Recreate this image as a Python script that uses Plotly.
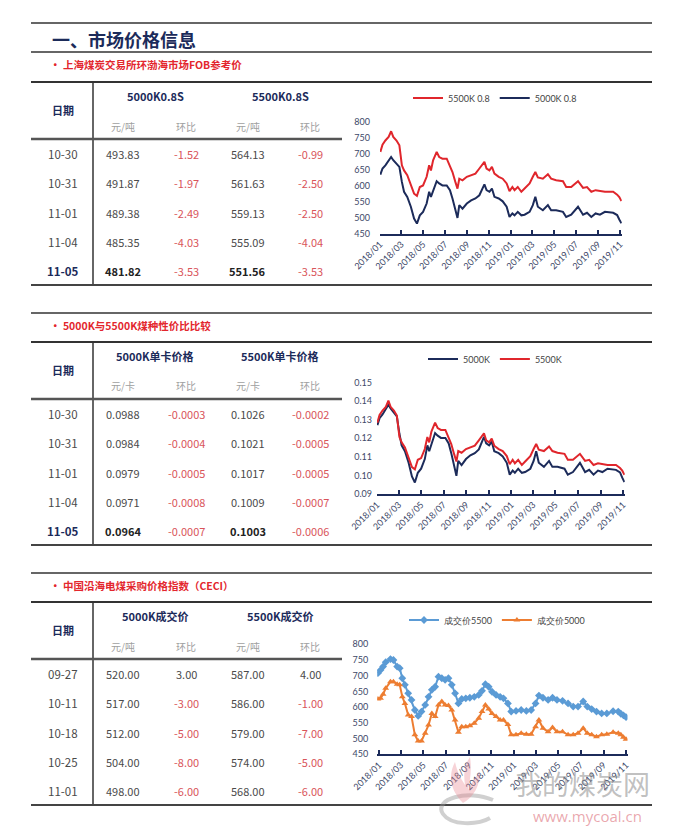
import plotly.graph_objects as go

W, H = 677, 830


def px(x):
    return x / W


def py(y):
    return 1 - y / H


# ---------------- data ----------------
fob_dates = [
    "2018-01-02", "2018-01-08", "2018-01-16", "2018-01-25", "2018-02-01", "2018-02-07",
    "2018-02-16", "2018-02-24", "2018-03-03", "2018-03-09", "2018-03-18", "2018-03-28",
    "2018-04-06", "2018-04-14", "2018-04-22", "2018-05-01", "2018-05-11", "2018-05-18",
    "2018-05-23", "2018-05-29", "2018-06-08", "2018-06-15", "2018-06-24", "2018-07-06",
    "2018-07-15", "2018-07-22", "2018-07-30", "2018-08-05", "2018-08-10", "2018-08-19",
    "2018-08-31", "2018-09-12", "2018-09-24", "2018-10-05", "2018-10-19", "2018-10-25",
    "2018-11-02", "2018-11-09", "2018-11-16", "2018-11-28", "2018-12-09", "2018-12-20",
    "2018-12-28", "2019-01-05", "2019-01-11", "2019-01-20", "2019-01-30", "2019-02-08",
    "2019-02-22", "2019-03-03", "2019-03-10", "2019-03-17", "2019-03-31", "2019-04-14",
    "2019-04-23", "2019-05-07", "2019-05-26", "2019-06-04", "2019-06-18", "2019-07-07",
    "2019-07-21", "2019-08-01", "2019-08-13", "2019-08-25", "2019-09-06", "2019-09-20",
    "2019-10-13", "2019-10-24", "2019-10-30", "2019-10-31", "2019-11-01", "2019-11-04",
    "2019-11-05",
]
fob_5500 = [
    706, 729, 742, 753, 771, 753, 742, 727, 664, 648, 633, 601,
    575, 568, 596, 601, 628, 664, 648, 680, 706, 690, 685, 685,
    664, 643, 612, 591, 622, 617, 628, 633, 638, 654, 675, 654,
    648, 659, 638, 628, 622, 607, 583, 596, 586, 596, 581, 591,
    607, 628, 643, 626, 622, 636, 622, 617, 614, 596, 596, 614,
    593, 596, 581, 586, 583, 581, 581, 572, 564.13, 561.63, 559.13, 555.09,
    551.56,
]
fob_5000 = [
    635, 654, 664, 680, 690, 680, 669, 659, 612, 581, 565, 534,
    497, 481, 507, 518, 544, 581, 565, 586, 614, 607, 601, 601,
    586, 560, 523, 499, 539, 528, 544, 554, 560, 570, 604, 586,
    581, 591, 565, 560, 551, 534, 502, 513, 507, 518, 507, 509,
    518, 539, 565, 534, 523, 539, 523, 523, 518, 502, 509, 534,
    509, 515, 502, 513, 509, 518, 515, 508, 493.83, 491.87, 489.38, 485.35,
    481.82,
]
kcal_5500 = [
    0.1284, 0.1325, 0.1349, 0.1369, 0.1402, 0.1369, 0.1349, 0.1322, 0.1207, 0.1178, 0.1151, 0.1093,
    0.1045, 0.1033, 0.1084, 0.1093, 0.1142, 0.1207, 0.1178, 0.1236, 0.1284, 0.1255, 0.1245, 0.1245,
    0.1207, 0.1169, 0.1113, 0.1075, 0.1131, 0.1122, 0.1142, 0.1151, 0.1160, 0.1189, 0.1227, 0.1189,
    0.1178, 0.1198, 0.1160, 0.1142, 0.1131, 0.1104, 0.1060, 0.1084, 0.1065, 0.1084, 0.1056, 0.1075,
    0.1104, 0.1142, 0.1169, 0.1138, 0.1131, 0.1156, 0.1131, 0.1122, 0.1116, 0.1084, 0.1084, 0.1116,
    0.1078, 0.1084, 0.1056, 0.1065, 0.1060, 0.1056, 0.1056, 0.1040, 0.1026, 0.1021, 0.1017, 0.1009,
    0.1003,
]
kcal_5000 = [
    0.1270, 0.1308, 0.1328, 0.1360, 0.1380, 0.1360, 0.1338, 0.1318, 0.1224, 0.1162, 0.1130, 0.1068,
    0.0994, 0.0962, 0.1014, 0.1036, 0.1088, 0.1162, 0.1130, 0.1172, 0.1228, 0.1214, 0.1202, 0.1202,
    0.1172, 0.1120, 0.1046, 0.0998, 0.1078, 0.1056, 0.1088, 0.1108, 0.1120, 0.1140, 0.1208, 0.1172,
    0.1162, 0.1182, 0.1130, 0.1120, 0.1102, 0.1068, 0.1004, 0.1026, 0.1014, 0.1036, 0.1014, 0.1018,
    0.1036, 0.1078, 0.1130, 0.1068, 0.1046, 0.1078, 0.1046, 0.1046, 0.1036, 0.1004, 0.1018, 0.1068,
    0.1018, 0.1030, 0.1004, 0.1026, 0.1018, 0.1036, 0.1030, 0.1016, 0.0988, 0.0984, 0.0979, 0.0971,
    0.0964,
]

ceci_dates = [
    "2017-12-29", "2018-01-05", "2018-01-12", "2018-01-19", "2018-02-01", "2018-02-09",
    "2018-02-19", "2018-02-26", "2018-03-05", "2018-03-12", "2018-03-21", "2018-03-30",
    "2018-04-08", "2018-04-17", "2018-04-26", "2018-05-06", "2018-05-15", "2018-05-24",
    "2018-06-02", "2018-06-11", "2018-06-20", "2018-06-29", "2018-07-08", "2018-07-17",
    "2018-07-26", "2018-08-04", "2018-08-13", "2018-08-24", "2018-09-04", "2018-09-16",
    "2018-09-28", "2018-10-07", "2018-10-16", "2018-10-25", "2018-11-03", "2018-11-14",
    "2018-11-25", "2018-12-04", "2018-12-16", "2018-12-25", "2019-01-07", "2019-01-21",
    "2019-02-04", "2019-02-17", "2019-03-01", "2019-03-10", "2019-03-21", "2019-04-04",
    "2019-04-16", "2019-04-28", "2019-05-13", "2019-05-28", "2019-06-11", "2019-06-24",
    "2019-07-08", "2019-07-19", "2019-07-31", "2019-08-13", "2019-08-27", "2019-09-10",
    "2019-09-27", "2019-10-11", "2019-10-18", "2019-10-25", "2019-11-01",
]
ceci_5500 = [
    708, 718, 729, 743, 753, 750, 729, 724, 692, 671, 644, 623,
    591, 572, 586, 607, 633, 655, 665, 697, 692, 687, 692, 671,
    644, 612, 626, 628, 630, 633, 639, 652, 673, 665, 649, 639,
    633, 628, 612, 586, 588, 591, 588, 591, 612, 637, 630, 623,
    630, 623, 620, 612, 602, 602, 618, 602, 594, 586, 580, 580,
    587, 586, 579, 574, 568,
]
ceci_5000 = [
    626, 628, 641, 660, 681, 681, 673, 671, 633, 612, 575, 570,
    512, 492, 492, 517, 543, 580, 570, 607, 618, 607, 605, 591,
    559, 520, 538, 538, 541, 549, 565, 586, 607, 594, 580, 570,
    559, 559, 545, 512, 512, 517, 514, 514, 538, 559, 533, 522,
    535, 522, 522, 512, 512, 517, 533, 517, 512, 506, 512, 514,
    520, 517, 512, 504, 498,
]

tick_dates = ["2018-01-01", "2018-03-01", "2018-05-01", "2018-07-01", "2018-09-01", "2018-11-01",
              "2019-01-01", "2019-03-01", "2019-05-01", "2019-07-01", "2019-09-01", "2019-11-01"]
tick_labels = ["2018/01", "2018/03", "2018/05", "2018/07", "2018/09", "2018/11",
               "2019/01", "2019/03", "2019/05", "2019/07", "2019/09", "2019/11"]

fob_rows = ["10-30", "10-31", "11-01", "11-04", "11-05"]
fob_5000_val = [493.83, 491.87, 489.38, 485.35, 481.82]
fob_5000_chg = [-1.52, -1.97, -2.49, -4.03, -3.53]
fob_5500_val = [564.13, 561.63, 559.13, 555.09, 551.56]
fob_5500_chg = [-0.99, -2.50, -2.50, -4.04, -3.53]

kcal_rows = ["10-30", "10-31", "11-01", "11-04", "11-05"]
kcal_5000_val = [0.0988, 0.0984, 0.0979, 0.0971, 0.0964]
kcal_5000_chg = [-0.0003, -0.0004, -0.0005, -0.0008, -0.0007]
kcal_5500_val = [0.1026, 0.1021, 0.1017, 0.1009, 0.1003]
kcal_5500_chg = [-0.0002, -0.0005, -0.0005, -0.0007, -0.0006]

ceci_rows = ["09-27", "10-11", "10-18", "10-25", "11-01"]
ceci_5000_val = [520.00, 517.00, 512.00, 504.00, 498.00]
ceci_5000_chg = [3.00, -3.00, -5.00, -8.00, -6.00]
ceci_5500_val = [587.00, 586.00, 579.00, 574.00, 568.00]
ceci_5500_chg = [4.00, -1.00, -7.00, -5.00, -6.00]

# ---------------- style ----------------
NAVY = "#1c2b5a"
RED = "#e0262c"
SUBRED = "#e3262d"
CHGRED = "#d9545a"
TXT = "#4a4a4a"
GRAY = "#a0a0a0"
AXTXT = "#3d4868"
BLUE3 = "#5b9bd5"
ORANGE3 = "#ed7d31"
CJK = "Noto Sans CJK SC"
TICKF = "Lato"

fig = go.Figure()

fig.add_trace(go.Scatter(x=fob_dates, y=fob_5500, name="5500K 0.8", mode="lines",
                         line=dict(color=RED, width=2), xaxis="x", yaxis="y", legend="legend"))
fig.add_trace(go.Scatter(x=fob_dates, y=fob_5000, name="5000K 0.8", mode="lines",
                         line=dict(color=NAVY, width=2), xaxis="x", yaxis="y", legend="legend"))
fig.add_trace(go.Scatter(x=fob_dates, y=kcal_5000, name="5000K", mode="lines",
                         line=dict(color=NAVY, width=2), xaxis="x2", yaxis="y2", legend="legend2"))
fig.add_trace(go.Scatter(x=fob_dates, y=kcal_5500, name="5500K", mode="lines",
                         line=dict(color=RED, width=2), xaxis="x2", yaxis="y2", legend="legend2"))
fig.add_trace(go.Scatter(x=ceci_dates, y=ceci_5500, name="成交价5500", mode="lines+markers",
                         line=dict(color=BLUE3, width=2),
                         marker=dict(symbol="diamond", size=6, color=BLUE3),
                         xaxis="x3", yaxis="y3", legend="legend3"))
fig.add_trace(go.Scatter(x=ceci_dates, y=ceci_5000, name="成交价5000", mode="lines+markers",
                         line=dict(color=ORANGE3, width=2),
                         marker=dict(symbol="triangle-up", size=6, color=ORANGE3),
                         xaxis="x3", yaxis="y3", legend="legend3"))


def xaxis(x0, x1, rng, anchor):
    return dict(domain=[px(x0), px(x1)], range=rng, type="date", anchor=anchor,
                tickmode="array", tickvals=tick_dates, ticktext=tick_labels, tickangle=-45,
                tickfont=dict(size=9, color=AXTXT, family=TICKF),
                showline=True, linecolor=NAVY, linewidth=2,
                ticks="inside", ticklen=4, tickwidth=1.5, tickcolor=NAVY,
                showgrid=False, zeroline=False, fixedrange=True, automargin=False)


def yaxis(ytop, ybot, rng, dtick, fmt, standoff, anchor):
    return dict(domain=[py(ybot), py(ytop)], range=rng, dtick=dtick, tickformat=fmt,
                anchor=anchor, tickfont=dict(size=9, color=AXTXT, family=TICKF),
                showgrid=False, zeroline=False, showline=False, ticks="",
                ticklabelstandoff=standoff, fixedrange=True, automargin=False)


def legend(xc, yc):
    return dict(orientation="h", x=px(xc), y=py(yc), xanchor="center", yanchor="middle",
                font=dict(size=9, color="#444", family=TICKF), bgcolor="rgba(0,0,0,0)",
                itemwidth=30, tracegroupgap=0)


shapes = []
ann = []


def hline(y, x0, x1, w=1.5, c="#333"):
    shapes.append(dict(type="line", xref="paper", yref="paper", x0=px(x0), x1=px(x1),
                       y0=py(y), y1=py(y), line=dict(color=c, width=w)))


def vline(x, y0, y1, w=1.5, c="#333"):
    shapes.append(dict(type="line", xref="paper", yref="paper", x0=px(x), x1=px(x),
                       y0=py(y0), y1=py(y1), line=dict(color=c, width=w)))


def text(x, y, t, size=11, color=TXT, anchor="center", family=CJK):
    ann.append(dict(x=px(x), y=py(y), xref="paper", yref="paper", text=t, showarrow=False,
                    xanchor=anchor, yanchor="middle", font=dict(size=size, color=color, family=family)))


def P(x, y):
    return "%.5f,%.5f" % (px(x), py(y))


hline(23, 31, 652, 1.5, "#333")
text(50, 39, "<b>一、市场价格信息</b>", size=18, color=NAVY, anchor="left")
hline(52, 31, 652, 1.5, "#333")

COLS = [123, 186, 248, 310]


def section(sec_line, subtitle, ttop, head1, head2, unit, rows, v1, c1, v2, c2, fmt, bold_last):
    if sec_line is not None:
        hline(sec_line, 31, 652, 1.5, "#333")
    text(48, ttop - 17, "<b>• " + subtitle + "</b>", size=10.5, color=SUBRED, anchor="left")
    hline(ttop, 31, 652, 2, "#333")
    vline(93, ttop, ttop + 203, 1.5, "#333")
    text(63, ttop + 28, "<b>日期</b>", size=11, color=NAVY)
    text(155, ttop + 14, "<b>" + head1 + "</b>", size=11, color=NAVY)
    text(280, ttop + 14, "<b>" + head2 + "</b>", size=11, color=NAVY)
    for cx, t in zip(COLS, [unit, "环比", unit, "环比"]):
        text(cx, ttop + 44, t, size=10, color=GRAY)
    hline(ttop + 57, 31, 342, 2.5, "#555")
    for i, d in enumerate(rows):
        y = ttop + 72 + i * 29.3
        b = bold_last and i == len(rows) - 1
        vals = [v1[i], c1[i], v2[i], c2[i]]
        dc = NAVY if b else TXT
        text(63, y, ("<b>%s</b>" % d) if b else d, size=11.5, color=dc)
        for j, (cx, v) in enumerate(zip(COLS, vals)):
            s = fmt % v
            if j in (1, 3):
                col = CHGRED if v < 0 else TXT
                text(cx, y, s, size=11, color=col)
            else:
                col = "#222" if b else TXT
                text(cx, y, ("<b>%s</b>" % s) if b else s, size=11, color=col)
    hline(ttop + 203, 31, 652, 2, "#444")


section(None, "上海煤炭交易所环渤海市场FOB参考价", 82, "5000K0.8S", "5500K0.8S", "元/吨",
        fob_rows, fob_5000_val, fob_5000_chg, fob_5500_val, fob_5500_chg, "%.2f", True)
section(313, "5000K与5500K煤种性价比比较", 342, "5000K单卡价格", "5500K单卡价格", "元/卡",
        kcal_rows, kcal_5000_val, kcal_5000_chg, kcal_5500_val, kcal_5500_chg, "%.4f", True)
section(573, "中国沿海电煤采购价格指数（CECI）", 602, "5000K成交价", "5500K成交价", "元/吨",
        ceci_rows, ceci_5000_val, ceci_5000_chg, ceci_5500_val, ceci_5500_chg, "%.2f", False)

# Watermark logo (faint arc + pink flame) and text
shapes.append(dict(type="path", xref="paper", yref="paper",
                   path="M " + P(493, 800) + " C " + P(468, 789) + " " + P(433, 799) + " " + P(443, 814)
                        + " C " + P(451, 826) + " " + P(478, 825) + " " + P(490, 818),
                   line=dict(color="rgba(150,150,150,0.45)", width=4)))
shapes.append(dict(type="path", xref="paper", yref="paper",
                   path="M " + P(463, 803) + " C " + P(450, 790) + " " + P(448, 775) + " " + P(455, 762)
                        + " C " + P(458, 775) + " " + P(462, 780) + " " + P(465, 785)
                        + " C " + P(463, 772) + " " + P(465, 764) + " " + P(470, 757)
                        + " C " + P(472, 770) + " " + P(470, 780) + " " + P(468, 790)
                        + " C " + P(472, 782) + " " + P(476, 776) + " " + P(480, 772)
                        + " C " + P(480, 785) + " " + P(474, 797) + " " + P(463, 803) + " Z",
                   fillcolor="rgba(232,130,140,0.35)", line=dict(width=0)))
text(582, 783, "我的煤炭网", size=27, color="rgba(140,140,140,0.55)")
text(587, 816, "www.mycoal.cn", size=15, color="rgba(220,110,120,0.6)", family="Open Sans")

fig.update_layout(
    width=W, height=H, autosize=False,
    margin=dict(l=0, r=0, t=0, b=0, pad=0, autoexpand=False),
    paper_bgcolor="white", plot_bgcolor="white", showlegend=True,
    xaxis=xaxis(380, 621.8, ["2018-01-01", "2019-11-06"], "y"),
    yaxis=yaxis(122, 233.5, [450, 800], 50, "d", 9, "x"),
    xaxis2=xaxis(377, 624.8, ["2018-01-01", "2019-11-06"], "y2"),
    yaxis2=yaxis(382.5, 494, [0.09, 0.15], 0.01, ".2f", 4, "x2"),
    xaxis3=xaxis(377.2, 627.5, ["2017-12-27", "2019-11-05"], "y3"),
    yaxis3=yaxis(644.3, 754.3, [450, 800], 50, "d", 8, "x3"),
    legend=legend(495, 98),
    legend2=legend(495, 359),
    legend3=legend(497, 620),
    shapes=shapes, annotations=ann,
)

fig.write_html("out.html", config={"displayModeBar": False, "responsive": False},
               post_script="document.body.style.margin='0';document.body.style.overflow='hidden';")
